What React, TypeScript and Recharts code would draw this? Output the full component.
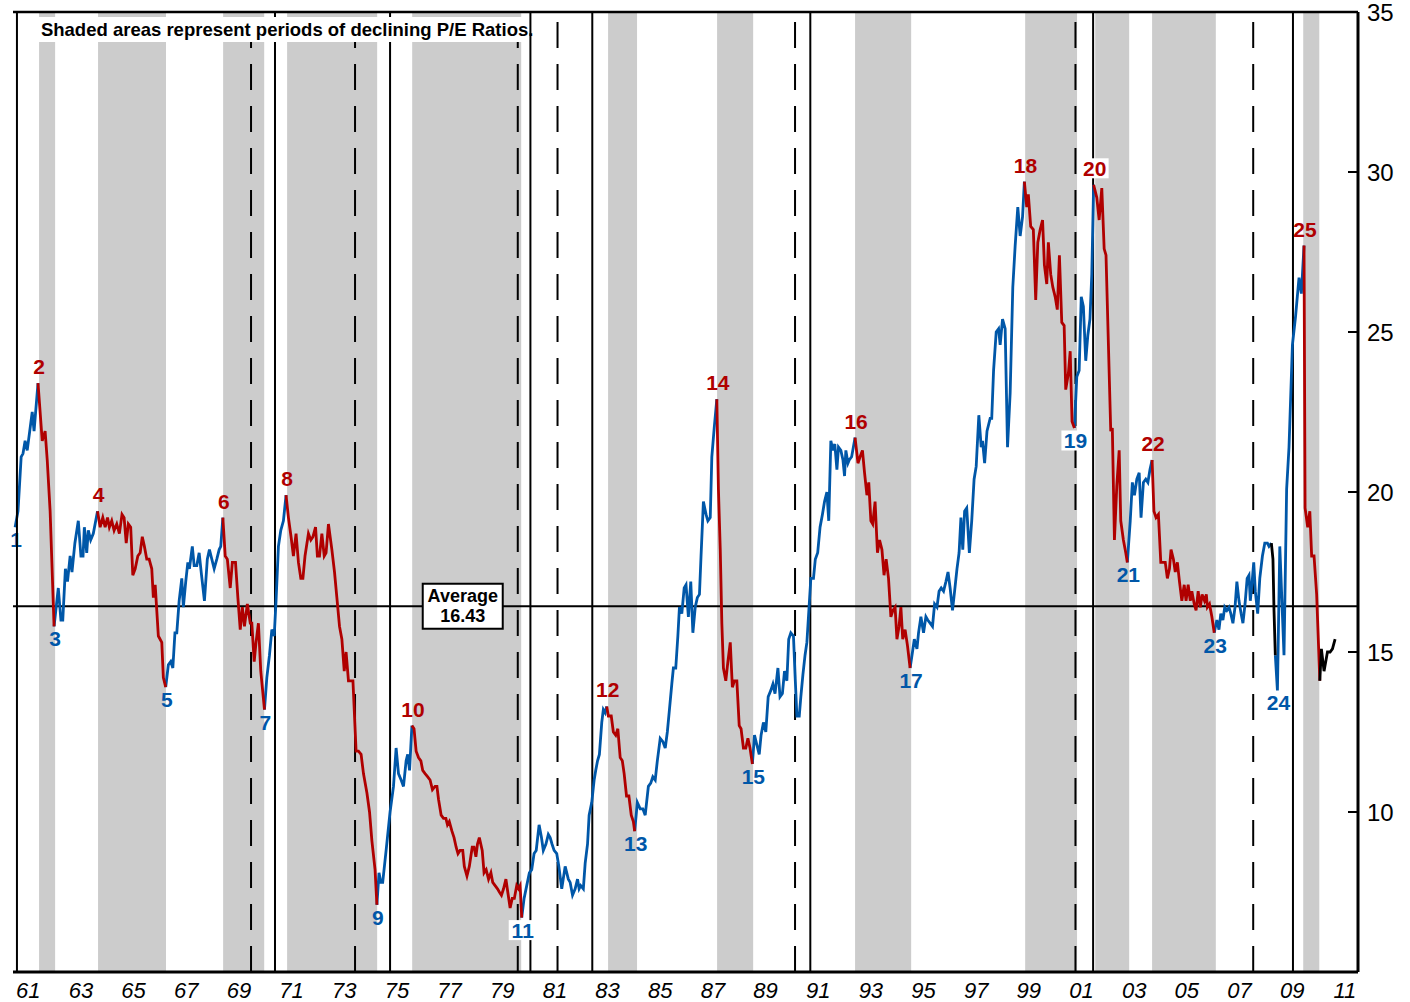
import React from 'react';
import {
  ComposedChart,
  Line,
  XAxis,
  YAxis,
  ReferenceArea,
  ReferenceLine,
  ReferenceDot,
} from 'recharts';

const FONT = '"Liberation Sans", Arial, Helvetica, sans-serif';
const RED = '#B00000';
const BLUE = '#0057A8';
const GRAY = '#CCCCCC';

// decimal-year dates of the line's vertices
const months = [
  1961.0, 1961.11, 1961.23, 1961.3, 1961.38, 1961.46, 1961.65, 1961.72, 1961.87, 1962.03, 1962.14, 1962.22, 1962.33, 1962.48,
  1962.64, 1962.74, 1962.81, 1962.91, 1962.99, 1963.09, 1963.16, 1963.27, 1963.4, 1963.5, 1963.58, 1963.63, 1963.72, 1963.78, 1963.87, 1963.97, 1964.13,
  1964.23, 1964.33, 1964.42, 1964.51, 1964.58, 1964.67, 1964.76, 1964.86, 1964.96, 1965.06, 1965.14, 1965.22, 1965.3, 1965.39, 1965.47, 1965.56, 1965.66, 1965.75, 1965.83, 1965.91, 1966.0, 1966.09, 1966.19, 1966.25, 1966.32, 1966.38, 1966.44, 1966.57, 1966.63, 1966.72,
  1966.82, 1966.91, 1966.99, 1967.07, 1967.14, 1967.23, 1967.33, 1967.39, 1967.48, 1967.56, 1967.62, 1967.73, 1967.8, 1967.9, 1967.99, 1968.08, 1968.19, 1968.3, 1968.38, 1968.47, 1968.56, 1968.66, 1968.75, 1968.81, 1968.89,
  1968.98, 1969.06, 1969.17, 1969.25, 1969.37, 1969.46, 1969.55, 1969.63, 1969.71, 1969.82, 1969.93, 1969.99, 1970.08, 1970.15, 1970.24, 1970.33, 1970.47,
  1970.56, 1970.66, 1970.75, 1970.84, 1970.91, 1971.0, 1971.09, 1971.19, 1971.29,
  1971.38, 1971.48, 1971.57, 1971.67, 1971.76, 1971.85, 1971.93, 1972.01, 1972.14, 1972.23, 1972.31, 1972.41, 1972.48, 1972.56, 1972.65, 1972.74, 1972.81, 1972.9, 1973.03, 1973.13, 1973.22, 1973.32, 1973.41, 1973.5, 1973.57, 1973.66, 1973.83, 1973.95, 1974.04, 1974.14, 1974.23, 1974.36, 1974.46, 1974.55, 1974.67, 1974.74,
  1974.82, 1974.89, 1974.96, 1975.09, 1975.24, 1975.37, 1975.47, 1975.56, 1975.66, 1975.75, 1975.85, 1975.91, 1975.98, 1976.07,
  1976.15, 1976.23, 1976.32, 1976.41, 1976.48, 1976.57, 1976.67, 1976.76, 1976.85, 1976.95, 1977.02, 1977.08, 1977.18, 1977.27, 1977.36, 1977.42, 1977.49, 1977.59, 1977.67, 1977.75, 1977.82, 1977.9, 1978.0, 1978.06, 1978.16, 1978.25, 1978.36, 1978.43, 1978.5, 1978.56, 1978.63, 1978.74, 1978.81, 1978.89, 1978.98, 1979.07, 1979.14, 1979.23, 1979.32, 1979.39, 1979.47, 1979.55, 1979.64, 1979.71, 1979.8, 1979.88, 1979.96, 1980.05, 1980.12, 1980.18, 1980.24,
  1980.33, 1980.43, 1980.53, 1980.62, 1980.71, 1980.79, 1980.9, 1980.99, 1981.06, 1981.16, 1981.25, 1981.32, 1981.39, 1981.47, 1981.57, 1981.65, 1981.76, 1981.89, 1982.01, 1982.08, 1982.17, 1982.27, 1982.36, 1982.42, 1982.48, 1982.58, 1982.65, 1982.74, 1982.8, 1982.9, 1982.99, 1983.05, 1983.12, 1983.19, 1983.28, 1983.34, 1983.41, 1983.47,
  1983.53, 1983.64, 1983.72, 1983.81, 1983.89, 1983.98, 1984.06, 1984.13, 1984.22, 1984.31, 1984.4, 1984.48, 1984.53,
  1984.63, 1984.74, 1984.84, 1984.93, 1985.05, 1985.14, 1985.22, 1985.31, 1985.39, 1985.5, 1985.6, 1985.69, 1985.77, 1985.85, 1985.94, 1986.0, 1986.09, 1986.17, 1986.23, 1986.32, 1986.41, 1986.48, 1986.57, 1986.66, 1986.74, 1986.83, 1986.91, 1986.99, 1987.05, 1987.14, 1987.24, 1987.31, 1987.4, 1987.46, 1987.55, 1987.65,
  1987.71, 1987.78, 1987.84, 1987.9, 1987.99, 1988.07, 1988.16, 1988.24, 1988.32, 1988.41, 1988.5, 1988.57, 1988.66, 1988.75, 1988.83, 1988.91, 1989.0,
  1989.08, 1989.17, 1989.26, 1989.33, 1989.42, 1989.51, 1989.6, 1989.7, 1989.78, 1989.86, 1989.97, 1990.05, 1990.14, 1990.22, 1990.31, 1990.38, 1990.46, 1990.56, 1990.62, 1990.69, 1990.78, 1990.84, 1990.92, 1991.0, 1991.07, 1991.13, 1991.22, 1991.32, 1991.39, 1991.48, 1991.57, 1991.66, 1991.74, 1991.83, 1991.9, 1991.98, 1992.06, 1992.13, 1992.21, 1992.27, 1992.36, 1992.44, 1992.5, 1992.55, 1992.63, 1992.68, 1992.77, 1992.9,
  1993.01, 1993.09, 1993.18, 1993.26, 1993.35, 1993.42, 1993.5, 1993.57, 1993.66, 1993.75, 1993.83, 1993.92, 1994.0, 1994.08, 1994.17, 1994.26, 1994.34, 1994.42, 1994.49, 1994.57, 1994.64, 1994.71, 1994.8, 1994.89, 1994.99,
  1995.08, 1995.15, 1995.25, 1995.31, 1995.4, 1995.5, 1995.59, 1995.66, 1995.75, 1995.84, 1995.92, 1996.01, 1996.09, 1996.17, 1996.26, 1996.35, 1996.43, 1996.51, 1996.6, 1996.68, 1996.77, 1996.85, 1996.92, 1996.99, 1997.06, 1997.14, 1997.24, 1997.33, 1997.42, 1997.5, 1997.6, 1997.69, 1997.74, 1997.82, 1997.91, 1998.03, 1998.09, 1998.16, 1998.26, 1998.35, 1998.41, 1998.5, 1998.6, 1998.69, 1998.79, 1998.89, 1998.98, 1999.08, 1999.17, 1999.26, 1999.33,
  1999.42, 1999.48, 1999.57, 1999.67, 1999.76, 1999.84, 1999.93, 2000.02, 2000.09, 2000.18, 2000.24, 2000.33, 2000.41, 2000.5, 2000.58, 2000.66, 2000.75, 2000.84, 2000.9, 2001.0, 2001.07, 2001.14, 2001.23,
  2001.32, 2001.41, 2001.49, 2001.57, 2001.66, 2001.74, 2001.82, 2001.89, 2001.96,
  2002.08, 2002.17, 2002.27, 2002.36, 2002.43, 2002.61, 2002.67, 2002.75, 2002.84, 2002.93, 2002.99, 2003.09, 2003.18, 2003.24,
  2003.35, 2003.43, 2003.51, 2003.6, 2003.69, 2003.76, 2003.85, 2003.94, 2004.02, 2004.1, 2004.18,
  2004.25, 2004.33, 2004.42, 2004.51, 2004.59, 2004.68, 2004.76, 2004.84, 2004.9, 2004.99, 2005.06, 2005.14, 2005.22, 2005.31, 2005.4, 2005.47, 2005.55, 2005.63, 2005.69, 2005.78, 2005.85, 2005.93, 2006.01, 2006.08, 2006.17, 2006.24, 2006.28, 2006.36, 2006.45, 2006.54,
  2006.64, 2006.72, 2006.79, 2006.87, 2006.94, 2007.02, 2007.1, 2007.17, 2007.25, 2007.33, 2007.4, 2007.48, 2007.56, 2007.63, 2007.71, 2007.79, 2007.86, 2007.91, 2007.98, 2008.04, 2008.1, 2008.19, 2008.27, 2008.37, 2008.46, 2008.56, 2008.62, 2008.71,
  2008.77, 2008.81, 2008.86, 2008.94, 2009.03, 2009.19, 2009.29, 2009.38, 2009.51, 2009.63, 2009.76, 2009.85, 2009.95,
  2009.99, 2010.09, 2010.17, 2010.24, 2010.33, 2010.43, 2010.55,
  2010.61, 2010.71, 2010.84, 2010.94, 2011.03, 2011.13,
];

// P/E ratio read at each vertex
const peRatio = [
  18.9, 19.4, 21.1, 21.2, 21.6, 21.3, 22.5, 21.9, 23.4, 21.6, 21.9, 21.0, 19.4, 15.8,
  17.0, 16.0, 16.0, 17.6, 17.2, 18.0, 17.5, 18.4, 19.1, 18.0, 18.0, 18.9, 18.1, 18.8, 18.5, 18.7, 19.4,
  18.9, 19.2, 18.9, 19.2, 18.9, 19.1, 18.8, 19.0, 18.7, 19.3, 19.2, 18.4, 19.0, 18.9, 17.4, 17.6, 18.0, 18.1, 18.6, 18.3, 17.9, 17.9, 17.6, 16.7, 17.1, 16.3, 15.5, 15.3, 14.2, 13.9,
  14.6, 14.7, 14.5, 15.6, 15.6, 16.6, 17.3, 16.4, 17.2, 17.8, 17.6, 18.3, 17.7, 17.7, 18.1, 17.4, 16.6, 17.9, 18.2, 17.9, 17.6, 17.9, 18.2, 18.3, 19.2,
  18.0, 17.9, 17.0, 17.8, 17.8, 16.7, 15.7, 16.4, 15.8, 16.5, 15.9, 15.9, 14.7, 15.3, 15.9, 14.4, 13.2,
  14.2, 14.9, 15.7, 15.5, 16.6, 18.3, 18.8, 19.1, 19.9,
  19.2, 18.6, 18.0, 18.7, 17.8, 17.3, 17.3, 18.0, 18.7, 18.5, 18.6, 18.9, 18.0, 18.0, 18.7, 18.0, 18.1, 19.0, 18.2, 17.5, 16.7, 15.8, 15.4, 14.4, 15.0, 14.1, 14.1, 11.9, 11.9, 11.8, 11.2, 10.6, 10.0, 9.1, 8.2, 7.1,
  8.1, 7.8, 7.8, 8.8, 10.0, 10.8, 12.0, 11.2, 11.0, 10.8, 11.6, 11.8, 11.3, 12.7,
  12.6, 11.9, 11.7, 11.6, 11.3, 11.2, 11.1, 11.0, 10.7, 10.8, 10.8, 10.4, 9.9, 9.8, 9.8, 9.6, 9.7, 9.4, 9.2, 8.9, 8.7, 8.8, 8.8, 8.3, 8.0, 8.3, 8.9, 8.9, 8.6, 9.0, 9.2, 8.8, 8.1, 8.2, 7.9, 8.1, 7.8, 7.7, 7.6, 7.5, 7.4, 7.6, 7.9, 7.5, 7.0, 7.3, 7.3, 7.7, 7.6, 7.7, 6.7,
  7.3, 7.7, 8.1, 8.2, 8.7, 8.8, 9.6, 9.2, 8.8, 9.0, 9.3, 9.2, 9.0, 8.8, 8.7, 8.3, 7.6, 8.3, 7.9, 7.8, 7.4, 7.6, 7.9, 7.6, 7.7, 7.6, 8.4, 9.0, 9.9, 10.3, 11.0, 11.3, 11.6, 11.8, 12.8, 13.2, 13.1, 13.3,
  13.0, 13.0, 12.5, 12.4, 12.6, 11.7, 11.6, 11.2, 10.5, 10.5, 9.9, 9.7, 9.4,
  10.3, 10.1, 10.1, 9.9, 10.8, 10.9, 11.1, 11.0, 11.6, 12.3, 12.2, 12.0, 12.5, 13.2, 14.0, 14.5, 14.5, 15.5, 16.4, 16.2, 17.0, 17.1, 16.1, 17.2, 15.6, 16.4, 16.7, 16.8, 18.0, 19.7, 19.3, 19.1, 19.2, 21.1, 22.0, 22.9,
  20.1, 18.2, 15.9, 14.5, 14.1, 14.7, 15.3, 13.9, 14.1, 14.1, 12.7, 12.6, 12.0, 12.0, 12.3, 12.0, 11.5,
  12.4, 12.1, 11.8, 12.4, 12.8, 12.5, 13.6, 13.8, 14.0, 13.7, 14.5, 13.6, 13.7, 14.4, 14.1, 15.4, 15.6, 15.5, 14.3, 13.0, 13.0, 13.6, 14.3, 14.9, 15.3, 16.1, 17.3, 17.3, 17.9, 18.1, 18.9, 19.3, 19.7, 20.0, 19.1, 21.6, 21.3, 21.5, 20.7, 21.4, 21.3, 21.0, 20.5, 21.3, 20.9, 21.0, 21.1, 21.7,
  20.9, 21.1, 21.3, 20.6, 19.9, 20.3, 19.1, 19.0, 19.7, 18.1, 18.5, 18.2, 17.4, 17.9, 17.3, 16.1, 16.3, 16.4, 15.4, 15.8, 16.4, 15.4, 15.7, 15.2, 14.5,
  15.0, 15.4, 15.1, 15.6, 16.1, 15.6, 16.1, 16.0, 15.9, 15.8, 16.5, 16.4, 16.9, 17.0, 16.9, 17.2, 17.5, 17.0, 16.3, 16.9, 17.6, 18.1, 19.2, 18.2, 19.4, 19.5, 18.1, 19.1, 20.4, 20.8, 22.4, 21.4, 21.6, 20.9, 21.9, 22.3, 22.3, 23.8, 25.0, 25.1, 24.6, 25.4, 25.1, 21.4, 23.1, 26.4, 27.7, 28.9, 28.0, 28.6, 29.7,
  28.9, 29.3, 28.3, 28.2, 26.0, 27.8, 28.2, 28.5, 27.1, 26.5, 27.8, 26.8, 26.4, 26.1, 25.7, 27.4, 25.3, 25.2, 23.2, 23.7, 24.4, 22.2, 22.0,
  23.6, 23.8, 26.1, 25.8, 24.1, 24.9, 25.4, 26.8, 29.6,
  29.2, 28.5, 29.5, 27.6, 27.4, 21.9, 22.0, 18.5, 20.2, 21.3, 19.1, 18.5, 18.1, 17.8,
  19.1, 20.3, 19.9, 20.4, 20.6, 19.2, 20.3, 20.4, 20.3, 20.7, 21.0,
  19.4, 19.2, 19.3, 17.8, 17.8, 17.8, 17.3, 17.6, 18.2, 17.9, 17.5, 17.8, 17.2, 16.6, 17.1, 16.6, 17.1, 16.6, 16.9, 16.5, 16.3, 16.9, 16.4, 16.8, 16.6, 16.8, 16.4, 16.5, 16.1, 15.6,
  16.0, 15.7, 16.2, 16.0, 16.4, 16.3, 16.4, 16.2, 15.9, 16.4, 17.2, 16.6, 16.2, 15.9, 16.5, 17.3, 17.4, 16.6, 17.2, 17.8, 16.9, 16.2, 17.3, 18.0, 18.4, 18.4, 18.3, 18.4,
  17.9, 16.3, 14.9, 13.8, 18.3, 14.9, 20.1, 21.4, 24.6, 25.5, 26.7, 26.2, 27.7,
  19.5, 18.9, 19.4, 18.0, 18.0, 16.8, 14.1,
  15.1, 14.4, 15.0, 15.0, 15.1, 15.4,
];

// periods of declining P/E (red line): peak date -> trough date
const declineStarts = [1961.87, 1964.13, 1968.89, 1971.29, 1976.07, 1983.47, 1987.65, 1992.9, 1999.33, 2001.96, 2004.18, 2009.95];
const declineEnds = [1962.48, 1966.72, 1970.47, 1974.74, 1980.24, 1984.53, 1989.0, 1994.99, 2001.23, 2003.24, 2006.54, 2010.55];

// black-drawn stretches
const blackStarts = [2008.71, 2010.55];
const blackEnds = [2008.86, 2011.13];

// shaded bands
const shadeStarts = [1961.91, 1964.15, 1968.9, 1971.33, 1976.08, 1983.52, 1987.66, 1992.9, 1999.36, 2002.02, 2004.18, 2009.92];
const shadeEnds = [1962.52, 1966.73, 1970.46, 1974.75, 1980.22, 1984.62, 1989.03, 1995.03, 2001.33, 2003.31, 2006.6, 2010.53];

// recession start (dashed) and end (solid) lines
const recessionStarts = [1969.96, 1973.91, 1980.09, 1981.6, 1990.62, 2001.27, 2008.02];
const recessionEnds = [1970.87, 1975.24, 1980.57, 1982.92, 1991.2, 2001.94, 2009.53];

// numbered turning points
const labelNames = ['1', '2', '3', '4', '5', '6', '7', '8', '9', '10', '11', '12', '13', '14', '15', '16', '17', '18', '19', '20', '21', '22', '23', '24', '25'];
const labelDates = [1961.0, 1961.87, 1962.48, 1964.13, 1966.72, 1968.89, 1970.47, 1971.29, 1974.74, 1976.07, 1980.24, 1983.47, 1984.53, 1987.65, 1989.0, 1992.9, 1994.99, 1999.33, 2001.23, 2001.96, 2003.24, 2004.18, 2006.54, 2008.94, 2009.95];
const labelIsPeak = [false, true, false, true, false, true, false, true, false, true, false, true, false, true, false, true, false, true, false, true, false, true, false, false, true];
const labelBoxed = ['11', '19', '20'];

const AVERAGE = 16.43;
const AVERAGE_BOX_DATE = 1978.0;
const TITLE = 'Shaded areas represent periods of declining P/E Ratios.';

const yTicks = [10, 15, 20, 25, 30, 35];
const xLabelTicks = [1961.5, 1963.5, 1965.5, 1967.5, 1969.5, 1971.5, 1973.5, 1975.5, 1977.5, 1979.5, 1981.5, 1983.5, 1985.5, 1987.5, 1989.5, 1991.5, 1993.5, 1995.5, 1997.5, 1999.5, 2001.5, 2003.5, 2005.5, 2007.5, 2009.5, 2011.5];
const xLabelText = ['61', '63', '65', '67', '69', '71', '73', '75', '77', '79', '81', '83', '85', '87', '89', '91', '93', '95', '97', '99', '01', '03', '05', '07', '09', '11'];
const yearMarks = [1962, 1963, 1964, 1965, 1966, 1967, 1968, 1969, 1970, 1971, 1972, 1973, 1974, 1975, 1976, 1977, 1978, 1979, 1980, 1981, 1982, 1983, 1984, 1985, 1986, 1987, 1988, 1989, 1990, 1991, 1992, 1993, 1994, 1995, 1996, 1997, 1998, 1999, 2000, 2001, 2002, 2003, 2004, 2005, 2006, 2007, 2008, 2009, 2010, 2011];

const X_DOMAIN: [number, number] = [1960.92, 2012];
const Y_DOMAIN: [number, number] = [5, 35];

const inRange = (m: number, s: number[], e: number[]) => s.some((v, i) => m >= v && m <= e[i]);

const segColor = months.slice(0, -1).map((d, i) => {
  const m = (d + months[i + 1]) / 2;
  if (inRange(m, blackStarts, blackEnds)) return 'black';
  if (inRange(m, declineStarts, declineEnds)) return 'red';
  return 'blue';
});

const data = months.map((d, i) => {
  const row: any = { date: d };
  ['blue', 'red', 'black'].forEach((c) => {
    const used = (i > 0 && segColor[i - 1] === c) || (i < segColor.length && segColor[i] === c);
    row[c] = used ? peRatio[i] : null;
  });
  return row;
});

const valueAt = (d: number) => peRatio[months.indexOf(d)];

const MarkTick = (props: any) => {
  const { x, y } = props;
  return <line x1={x} x2={x} y1={y} y2={y - 10} stroke="#000" strokeWidth={1.5} />;
};

const RightTick = (props: any) => {
  const { x, y, payload } = props;
  return (
    <g>
      <line x1={x - 10} x2={x} y1={y} y2={y} stroke="#000" strokeWidth={2} />
      <text x={x + 9} y={y} dy={8.5} textAnchor="start" fontFamily={FONT} fontSize={24} fill="#000">
        {payload.value}
      </text>
    </g>
  );
};

const PointLabel = (props: any) => {
  const { cx, cy, text, peak, boxed } = props;
  if (cx == null || cy == null) return null;
  const tx = cx + 1;
  const by = peak ? cy - 9 : cy + 20;
  return (
    <g>
      {boxed && <rect x={tx - 14} y={by - 17.5} width={28} height={20} fill="#fff" />}
      <text x={tx} y={by} textAnchor="middle" fontFamily={FONT} fontWeight="bold" fontSize={21} fill={peak ? RED : BLUE}>
        {text}
      </text>
    </g>
  );
};

const AverageBox = (props: any) => {
  const { cx, cy } = props;
  if (cx == null || cy == null) return null;
  return (
    <g>
      <rect x={cx - 40} y={cy - 22.5} width={80} height={45} fill="#fff" stroke="#000" strokeWidth={2} />
      <text x={cx} y={cy - 4} textAnchor="middle" fontFamily={FONT} fontWeight="bold" fontSize={18} fill="#000">
        Average
      </text>
      <text x={cx} y={cy + 16} textAnchor="middle" fontFamily={FONT} fontWeight="bold" fontSize={18} fill="#000">
        {AVERAGE.toFixed(2)}
      </text>
    </g>
  );
};

export default function App() {
  return (
    <div style={{ position: 'absolute', left: 0, top: 0, width: 1410, height: 1002, background: '#fff' }}>
      <ComposedChart
        width={1410}
        height={1002}
        data={data}
        margin={{ top: 12, right: 0, bottom: 0, left: 13 }}
      >
        <XAxis
          xAxisId="marks"
          dataKey="date"
          type="number"
          domain={X_DOMAIN}
          allowDataOverflow
          ticks={yearMarks}
          interval={0}
          height={0}
          axisLine={false}
          tickLine={false}
          tickSize={0}
          tickMargin={0}
          tick={<MarkTick />}
        />
        <XAxis
          dataKey="date"
          type="number"
          domain={X_DOMAIN}
          allowDataOverflow
          ticks={xLabelTicks}
          interval={0}
          height={30}
          tickFormatter={(v: number) => xLabelText[xLabelTicks.indexOf(v)] ?? ''}
          axisLine={{ stroke: '#000', strokeWidth: 3 }}
          tickLine={false}
          tickSize={6}
          tickMargin={4}
          tick={{ fontFamily: FONT, fontSize: 22, fontStyle: 'italic', fill: '#000' }}
        />
        <YAxis
          orientation="right"
          type="number"
          domain={Y_DOMAIN}
          allowDataOverflow
          ticks={yTicks}
          interval={0}
          width={52}
          axisLine={{ stroke: '#000', strokeWidth: 3 }}
          tickLine={false}
          tickSize={0}
          tickMargin={0}
          tick={<RightTick />}
        />
        <YAxis
          yAxisId="frame"
          orientation="left"
          type="number"
          domain={Y_DOMAIN}
          allowDataOverflow
          width={0}
          tick={false}
          tickLine={false}
          axisLine={{ stroke: '#000', strokeWidth: 2 }}
        />

        {shadeStarts.map((s, i) => (
          <ReferenceArea
            key={`shade-${i}`}
            x1={s}
            x2={shadeEnds[i]}
            fill={GRAY}
            fillOpacity={1}
            stroke="none"
            zIndex={100}
          />
        ))}

        {recessionStarts.map((d, i) => (
          <ReferenceLine
            key={`rs-${i}`}
            x={d}
            stroke="#000"
            strokeWidth={2}
            strokeDasharray="26 16"
            zIndex={150}
          />
        ))}

        {recessionEnds.map((d, i) => (
          <ReferenceLine key={`re-${i}`} x={d} stroke="#000" strokeWidth={2} zIndex={160} />
        ))}

        <ReferenceArea
          x1={1961.07}
          x2={1980.3}
          y1={34.06}
          y2={34.84}
          fill="#fff"
          fillOpacity={1}
          stroke="none"
          zIndex={200}
          label={{
            value: TITLE,
            position: 'insideLeft',
            offset: 24,
            fill: '#000',
            fontSize: 18.5,
            fontWeight: 'bold',
            fontFamily: FONT,
          }}
        />

        <ReferenceLine y={AVERAGE} stroke="#000" strokeWidth={1.8} zIndex={300} />

        <Line
          dataKey="blue"
          stroke={BLUE}
          strokeWidth={2.8}
          dot={false}
          activeDot={false}
          connectNulls={false}
          isAnimationActive={false}
          type="linear"
          zIndex={400}
        />
        <Line
          dataKey="red"
          stroke={RED}
          strokeWidth={2.8}
          dot={false}
          activeDot={false}
          connectNulls={false}
          isAnimationActive={false}
          type="linear"
          zIndex={400}
        />
        <Line
          dataKey="black"
          stroke="#000"
          strokeWidth={2.8}
          dot={false}
          activeDot={false}
          connectNulls={false}
          isAnimationActive={false}
          type="linear"
          zIndex={400}
        />

        <ReferenceDot
          x={AVERAGE_BOX_DATE}
          y={AVERAGE}
          r={0}
          ifOverflow="visible"
          zIndex={600}
          shape={(p: any) => <AverageBox {...p} />}
        />

        {labelNames.map((n, i) => (
          <ReferenceDot
            key={`lbl-${n}`}
            x={labelDates[i]}
            y={valueAt(labelDates[i])}
            r={0}
            ifOverflow="visible"
            zIndex={600}
            shape={(p: any) => (
              <PointLabel {...p} text={n} peak={labelIsPeak[i]} boxed={labelBoxed.includes(n)} />
            )}
          />
        ))}

        <ReferenceLine x={1961.07} stroke="#000" strokeWidth={2} zIndex={700} />
        <ReferenceLine y={35} stroke="#000" strokeWidth={2.5} zIndex={700} />
      </ComposedChart>
    </div>
  );
}
